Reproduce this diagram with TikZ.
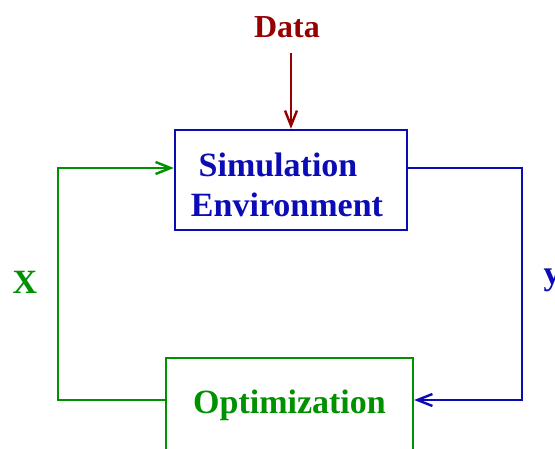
\documentclass[tikz,border=0pt]{standalone}
\usepackage{fontspec}
\setmainfont{Liberation Serif}
\usepackage{xcolor}
\usetikzlibrary{arrows.meta, positioning}
\definecolor{simblue}{RGB}{12,12,182}
\definecolor{optgreen}{RGB}{0,145,0}
\definecolor{datared}{RGB}{150,0,0}
\tikzstyle{block} = [rectangle, line width=2.4pt, text centered, align=center, inner sep=0pt, font=\fontsize{34}{40}\selectfont\bfseries]
\tikzstyle{varlabel} = [inner sep=0pt, font=\fontsize{34}{40}\selectfont\bfseries]
\tikzstyle{arrow} = [line width=2.4pt, -{Straight Barb[length=15pt,width=12pt]}]

\begin{document}
\begin{tikzpicture}[x=1pt, y=-1pt]
\useasboundingbox (0,0) rectangle (555,448);
\clip (0,0) rectangle (555,448);
% blocks
\node [block, draw=simblue, text=simblue, minimum width=232pt, minimum height=100pt] (sim) at (291,180) {\rule{0pt}{33pt}Simulation\hspace*{26pt}\\Environment\hspace*{8pt}};
\node [block, draw=optgreen, text=optgreen, minimum width=247pt, minimum height=94pt] (opt) at (289.5,405) {Optimization};
\node [varlabel, text=datared, font=\fontsize{32}{38}\selectfont\bfseries] (data) at (287,27) {Data};
% variables
\node [varlabel, text=optgreen] (xlab) at (25,282) {X};
\node [varlabel, text=simblue] (ylab) at (552,280) {y};
% loop
\draw [arrow, datared, shorten <=15pt] (sim.north |- data.south) -- (sim.north);
\draw [arrow, optgreen] ([yshift=5pt]opt.west) -- ++(-107,0) |- ([yshift=12pt]sim.west);
\draw [arrow, simblue] ([yshift=12pt]sim.east) -- ++(114,0) |- ([yshift=5pt]opt.east);
\end{tikzpicture}
\end{document}
